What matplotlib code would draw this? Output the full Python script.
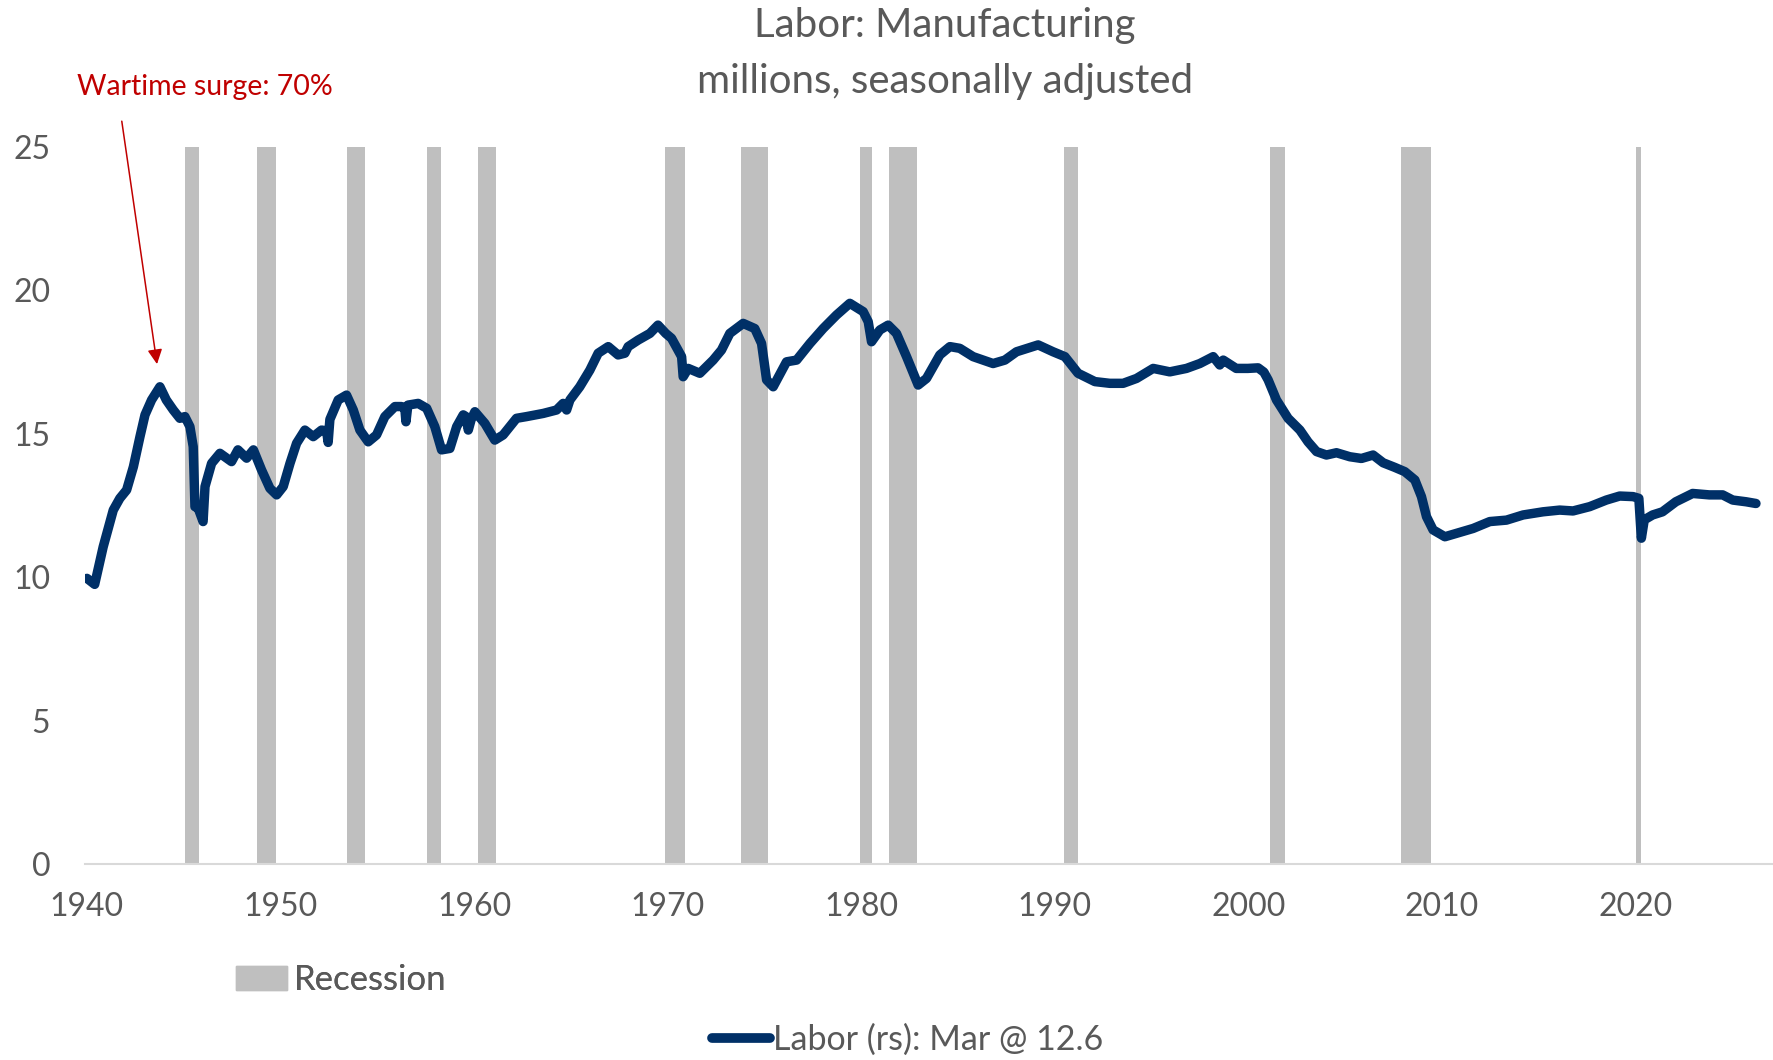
import matplotlib.pyplot as plt
from matplotlib.patches import Patch
from matplotlib.lines import Line2D

plt.rcParams['font.family'] = ['Lato', 'DejaVu Sans']

# manufacturing employment, millions
years = [1940.0, 1940.4, 1940.84, 1941.36, 1941.7, 1942.05, 1942.4, 1942.74, 1943.0, 1943.34,
         1943.77, 1944.1, 1944.46, 1944.8, 1945.06, 1945.32, 1945.49, 1945.58, 1945.75, 1946.0,
         1946.1, 1946.44, 1946.87, 1947.47, 1947.8, 1948.25, 1948.6, 1949.02, 1949.45, 1949.8,
         1950.14, 1950.49, 1950.83, 1951.26, 1951.69, 1952.12, 1952.38, 1952.46, 1952.55, 1952.98,
         1953.41, 1953.76, 1954.1, 1954.53, 1954.96, 1955.39, 1955.91, 1956.25, 1956.42, 1956.48,
         1956.58, 1957.11, 1957.55, 1957.97, 1958.32, 1958.75, 1959.1, 1959.44, 1959.58, 1959.7,
         1959.85, 1960.04, 1960.56, 1961.07, 1961.5, 1962.19, 1962.71, 1963.57, 1964.26, 1964.6,
         1964.78, 1964.95, 1965.46, 1965.98, 1966.41, 1966.93, 1967.44, 1967.79, 1967.96, 1968.48,
         1969.08, 1969.5, 1969.9, 1970.2, 1970.72, 1970.8, 1971.06, 1971.66, 1972.35, 1972.78,
         1973.21, 1973.9, 1974.5, 1974.85, 1975.11, 1975.45, 1976.14, 1976.66, 1977.35, 1978.03,
         1978.72, 1979.41, 1980.1, 1980.36, 1980.53, 1980.96, 1981.39, 1981.82, 1982.34, 1982.94,
         1983.37, 1984.06, 1984.58, 1985.09, 1985.78, 1986.81, 1987.42, 1988.02, 1989.14, 1989.91,
         1990.52, 1991.2, 1992.07, 1992.84, 1993.53, 1994.22, 1995.08, 1995.94, 1996.8, 1997.49,
         1998.18, 1998.52, 1998.7, 1999.37, 1999.97, 2000.5, 2000.8, 2001.02, 2001.45, 2002.05,
         2002.66, 2003.08, 2003.52, 2004.03, 2004.55, 2005.24, 2005.84, 2006.44, 2006.96, 2007.56,
         2008.08, 2008.6, 2008.94, 2009.2, 2009.54, 2010.15, 2010.75, 2011.61, 2012.47, 2013.33,
         2014.19, 2015.22, 2016.08, 2016.77, 2017.63, 2018.49, 2019.18, 2019.87, 2020.17, 2020.3,
         2020.45, 2020.88, 2021.39, 2022.08, 2022.95, 2023.81, 2024.5, 2025.02, 2025.71, 2026.22]
labor = [9.96, 9.75, 11.06, 12.34, 12.75, 13.04, 13.85, 14.9, 15.66, 16.18,
         16.64, 16.18, 15.83, 15.54, 15.6, 15.25, 14.55, 12.46, 12.4, 11.94,
         13.16, 13.97, 14.32, 14.03, 14.44, 14.15, 14.44, 13.74, 13.1, 12.87,
         13.16, 13.97, 14.67, 15.13, 14.9, 15.13, 15.1, 14.7, 15.5, 16.18,
         16.35, 15.83, 15.13, 14.72, 14.96, 15.6, 15.95, 15.95, 15.9, 15.42,
         16.0, 16.06, 15.89, 15.25, 14.44, 14.49, 15.25, 15.66, 15.6, 15.13,
         15.5, 15.77, 15.36, 14.78, 14.96, 15.54, 15.6, 15.71, 15.83, 16.06,
         15.83, 16.18, 16.64, 17.22, 17.81, 18.04, 17.75, 17.81, 18.04, 18.27,
         18.5, 18.79, 18.5, 18.33, 17.69, 16.99, 17.28, 17.11, 17.57, 17.92,
         18.5, 18.85, 18.67, 18.15, 16.88, 16.64, 17.51, 17.57, 18.15, 18.67,
         19.14, 19.55, 19.26, 18.91, 18.21, 18.62, 18.79, 18.5, 17.69, 16.7,
         16.93, 17.75, 18.04, 17.98, 17.69, 17.45, 17.57, 17.86, 18.1, 17.86,
         17.69, 17.11, 16.82, 16.76, 16.76, 16.93, 17.28, 17.16, 17.28, 17.45,
         17.69, 17.4, 17.57, 17.28, 17.28, 17.3, 17.15, 16.88, 16.18, 15.54,
         15.13, 14.72, 14.38, 14.26, 14.34, 14.2, 14.14, 14.26, 13.99, 13.83,
         13.68, 13.39, 12.81, 12.11, 11.65, 11.41, 11.53, 11.7, 11.94, 11.99,
         12.17, 12.28, 12.34, 12.31, 12.46, 12.69, 12.83, 12.81, 12.75, 11.36,
         12.0, 12.17, 12.28, 12.63, 12.92, 12.87, 12.87, 12.69, 12.63, 12.57]

# NBER recessions (peak month, trough month)
rec_start = [(1945, 2), (1948, 11), (1953, 7), (1957, 8), (1960, 4), (1969, 12), (1973, 11),
             (1980, 1), (1981, 7), (1990, 7), (2001, 3), (2007, 12), (2020, 2)]
rec_end = [(1945, 10), (1949, 10), (1954, 5), (1958, 4), (1961, 2), (1970, 11), (1975, 3),
           (1980, 7), (1982, 11), (1991, 3), (2001, 11), (2009, 6), (2020, 4)]

grey_txt = '#595959'
navy = '#003067'
rec_grey = '#BFBFBF'

fig = plt.figure(figsize=(17.73, 10.60), dpi=100)
ax = fig.add_axes([85 / 1773, 1 - 864 / 1060, 1 - 85 / 1773, (864 - 147) / 1060])

for (y0, m0), (y1, m1) in zip(rec_start, rec_end):
    x0 = y0 + (m0 - 1) / 12 - 1 / 24
    x1 = y1 + (m1 - 1) / 12 + 1 / 24
    ax.axvspan(x0, x1, ymin=0, ymax=1, color=rec_grey, lw=0, zorder=1)

ax.plot(years, labor, color=navy, lw=6.8, solid_joinstyle='round',
        solid_capstyle='round', zorder=3)

ax.set_xlim(1939.9, 2027.1)
ax.set_ylim(0, 25)
ax.set_xticks(range(1940, 2021, 10))
ax.set_yticks(range(0, 26, 5))
ax.tick_params(axis='both', length=0, labelsize=23, colors=grey_txt)
ax.tick_params(axis='y', pad=25)
ax.tick_params(axis='x', pad=20)
for s in ['top', 'right', 'left']:
    ax.spines[s].set_visible(False)
ax.spines['bottom'].set_color('#D9D9D9')
ax.spines['bottom'].set_linewidth(1.5)

fig.text(945 / 1773, 1 - 26 / 1060, 'Labor: Manufacturing', ha='center', va='center',
         fontsize=29, color=grey_txt)
fig.text(945 / 1773, 1 - 82 / 1060, 'millions, seasonally adjusted', ha='center', va='center',
         fontsize=29, color=grey_txt)

red = '#C00000'
ax.text(1939.5, 27.1, 'Wartime surge: 70%', ha='left', va='center', fontsize=20.5,
        color=red, clip_on=False)
ax.annotate('', xy=(1943.62, 17.43), xytext=(1941.8, 25.9), annotation_clip=False,
            arrowprops=dict(arrowstyle='-|>', color=red, lw=1.1, mutation_scale=22,
                            shrinkA=0, shrinkB=0))

leg1 = fig.legend(handles=[Patch(color=rec_grey, label='Recession')], loc='center left',
                  bbox_to_anchor=(236 / 1773, 1 - 980 / 1060), frameon=False, fontsize=25,
                  handlelength=1.47, handleheight=0.7, handletextpad=0.2, borderpad=0,
                  borderaxespad=0, labelcolor=grey_txt)
leg2 = fig.legend(handles=[Line2D([], [], color=navy, lw=7, solid_capstyle='round',
                                  label='Labor (rs): Mar @ 12.6')],
                  loc='center left', bbox_to_anchor=(712 / 1773, 1 - 1040 / 1060),
                  frameon=False, fontsize=24.5, handlelength=1.7, handletextpad=0.1,
                  borderpad=0, borderaxespad=0, labelcolor=grey_txt)
fig.add_artist(leg1)

fig.savefig('out.png', dpi=100)
